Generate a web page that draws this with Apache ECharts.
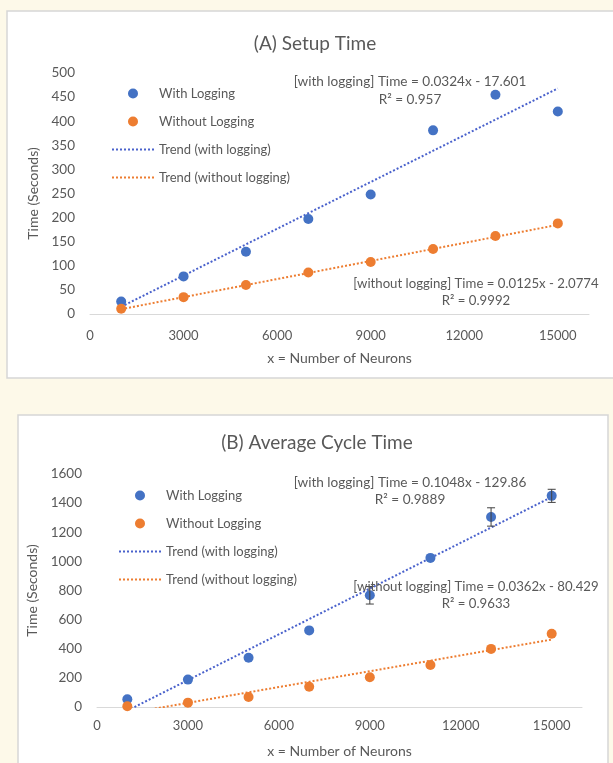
<!DOCTYPE html>
<html><head><meta charset="utf-8">
<script src="https://cdn.jsdelivr.net/npm/echarts@6/dist/echarts.min.js"></script>
<style>html,body{margin:0;padding:0;background:#fdf9e9}#c{width:613px;height:763px}</style>
</head><body><div id="c"></div>
<script>
// ---- data ----
const neurons = [1000, 3000, 5000, 7000, 9000, 11000, 13000, 15000];
const setupWith = [26, 78, 129, 197, 248, 381, 455, 420];
const setupWithout = [11, 35, 60, 86, 108, 135, 162, 188];
const trendX = [1000, 15000];
const setupTrendWith = [15, 468];
const setupTrendWithout = [10, 185];
const cycleWith = [53, 188, 338, 526, 767, 1024, 1305, 1450];
const cycleWithErr = [0, 0, 0, 0, 60, 0, 63, 45];
const cycleWithout = [5, 30, 69, 139, 204, 288, 399, 503];
const cycleTrendWith = [-25, 1442];
const cycleTrendWithout = [-44, 463];
const xTickLabels = ['0', '3000', '6000', '9000', '12000', '15000'];
const setupYTicks = [0, 50, 100, 150, 200, 250, 300, 350, 400, 450, 500];
const cycleYTicks = [0, 200, 400, 600, 800, 1000, 1200, 1400, 1600];
const titles = ['(A) Setup Time', '(B) Average Cycle Time'];
const eqA = ['[with logging] Time = 0.0324x - 17.601', 'R\u00b2 = 0.957', '[without logging] Time = 0.0125x - 2.0774', 'R\u00b2 = 0.9992'];
const eqB = ['[with logging] Time = 0.1048x - 129.86', 'R\u00b2 = 0.9889', '[without logging] Time = 0.0362x - 80.429', 'R\u00b2 = 0.9633'];
const legendNames = ['With Logging', 'Without Logging', 'Trend (with logging)', 'Trend (without logging)'];

const FONT = 'Lato';
const TXT = '#595959';
const BLUE = '#4472C4', ORANGE = '#ED7D31', TBLUE = '#4a62cc';

const pairs = (xs, ys) => xs.map((x, i) => [x, ys[i]]);
const xMax = 16000;

function xAxisCfg(gi, margin) {
  return {
    type: 'value', gridIndex: gi, min: 0, max: xMax, interval: 3000,
    name: 'x = Number of Neurons', nameLocation: 'middle', nameGap: 37,
    nameTextStyle: { color: TXT, fontFamily: FONT, fontSize: 14 },
    axisLine: { show: true, lineStyle: { color: '#d9d9d9', width: 1 } },
    axisTick: { show: false }, splitLine: { show: false },
    axisLabel: { color: TXT, fontFamily: FONT, fontSize: 13, margin: margin, showMaxLabel: false,
      formatter: v => xTickLabels.includes(String(v)) ? String(v) : '' }
  };
}
function yAxisCfg(gi, ticks, gap) {
  return {
    type: 'value', gridIndex: gi, min: ticks[0], max: ticks[ticks.length - 1], interval: ticks[1] - ticks[0],
    name: 'Time (Seconds)', nameLocation: 'middle', nameGap: gap,
    nameTextStyle: { color: TXT, fontFamily: FONT, fontSize: 14 },
    axisLine: { show: false }, axisTick: { show: false }, splitLine: { show: false },
    axisLabel: { color: TXT, fontFamily: FONT, fontSize: 13.5, margin: 15, formatter: v => String(v) }
  };
}
function scatter(name, data, color, gi) {
  return { name, type: 'scatter', xAxisIndex: gi, yAxisIndex: gi, data, symbolSize: 10,
    itemStyle: { color, opacity: 1 }, z: 4 };
}
function trend(name, data, color, gi) {
  return { name, type: 'line', xAxisIndex: gi, yAxisIndex: gi, data, showSymbol: false, symbol: 'none',
    clip: true, lineStyle: { color, width: 2, type: [2, 2] }, itemStyle: { color }, z: 3 };
}
function legendCfg(left, top) {
  return { left, top, orient: 'vertical', itemWidth: 42, itemHeight: 10, itemGap: 15,
    data: legendNames.map((n, i) => i < 2 ? { name: n, itemStyle: { opacity: 1 } } : { name: n, itemStyle: { opacity: 0 } }),
    textStyle: { color: TXT, fontFamily: FONT, fontSize: 13 }, selectedMode: false };
}
function eqText(lines, cx, y1, y2, fs) {
  const st = { fill: TXT, font: fs + 'px ' + FONT, textAlign: 'center', textVerticalAlign: 'middle' };
  return [
    { type: 'text', x: cx, y: y1, style: Object.assign({ text: lines[0] }, st), z: 10 },
    { type: 'text', x: cx, y: y2, style: Object.assign({ text: lines[1] }, st), z: 10 }
  ];
}

const errData = neurons.map((x, i) => [x, cycleWith[i], cycleWithErr[i]]).filter(d => d[2] > 0);

const chart = echarts.init(document.getElementById('c'), null, { renderer: 'canvas' });
chart.setOption({
  backgroundColor: '#fdf9e9',
  animation: false,
  title: [
    { text: titles[0], left: 310, top: 29, textAlign: 'center', textStyle: { color: TXT, fontFamily: FONT, fontSize: 19, fontWeight: 'normal' } },
    { text: titles[1], left: 312, top: 428, textAlign: 'center', textStyle: { color: TXT, fontFamily: FONT, fontSize: 19, fontWeight: 'normal' } }
  ],
  grid: [
    { left: 90, top: 73, width: 499, height: 241 },
    { left: 97, top: 474, width: 485, height: 233 }
  ],
  xAxis: [xAxisCfg(0, 15), xAxisCfg(1, 12)],
  yAxis: [yAxisCfg(0, setupYTicks, 46), yAxisCfg(1, cycleYTicks, 46)],
  legend: [legendCfg(106, 82), legendCfg(113, 484)],
  graphic: [
    { type: 'rect', shape: { x: 7, y: 11, width: 620, height: 367 }, style: { fill: '#ffffff', stroke: '#d6d6d6', lineWidth: 1.5 }, z: -10 },
    { type: 'rect', shape: { x: 18, y: 415, width: 590, height: 360 }, style: { fill: '#ffffff', stroke: '#d6d6d6', lineWidth: 1.5 }, z: -10 },
    ...eqText([eqA[0], eqA[1]], 410, 82, 100, 13.6),
    ...eqText([eqA[2], eqA[3]], 476, 284, 301, 13.2),
    ...eqText([eqB[0], eqB[1]], 410, 483, 500, 13.6),
    ...eqText([eqB[2], eqB[3]], 476, 587, 604, 13.2)
  ],
  series: [
    trend(legendNames[2], pairs(trendX, setupTrendWith), TBLUE, 0),
    trend(legendNames[3], pairs(trendX, setupTrendWithout), ORANGE, 0),
    scatter(legendNames[0], pairs(neurons, setupWith), BLUE, 0),
    scatter(legendNames[1], pairs(neurons, setupWithout), ORANGE, 0),
    trend(legendNames[2], pairs(trendX, cycleTrendWith), TBLUE, 1),
    trend(legendNames[3], pairs(trendX, cycleTrendWithout), ORANGE, 1),
    scatter(legendNames[0], pairs(neurons, cycleWith), BLUE, 1),
    scatter(legendNames[1], pairs(neurons, cycleWithout), ORANGE, 1),
    {
      type: 'custom', xAxisIndex: 1, yAxisIndex: 1, data: errData, z: 5, silent: true,
      renderItem: function (params, api) {
        const x = api.value(0), y = api.value(1), e = api.value(2);
        const top = api.coord([x, y + e]);
        const bot = api.coord([x, y - e]);
        const st = { stroke: '#404040', lineWidth: 1 };
        return { type: 'group', children: [
          { type: 'line', shape: { x1: top[0], y1: top[1], x2: bot[0], y2: bot[1] }, style: st },
          { type: 'line', shape: { x1: top[0] - 4, y1: top[1], x2: top[0] + 4, y2: top[1] }, style: st },
          { type: 'line', shape: { x1: bot[0] - 4, y1: bot[1], x2: bot[0] + 4, y2: bot[1] }, style: st }
        ] };
      }
    }
  ]
});
</script>
</body></html>
